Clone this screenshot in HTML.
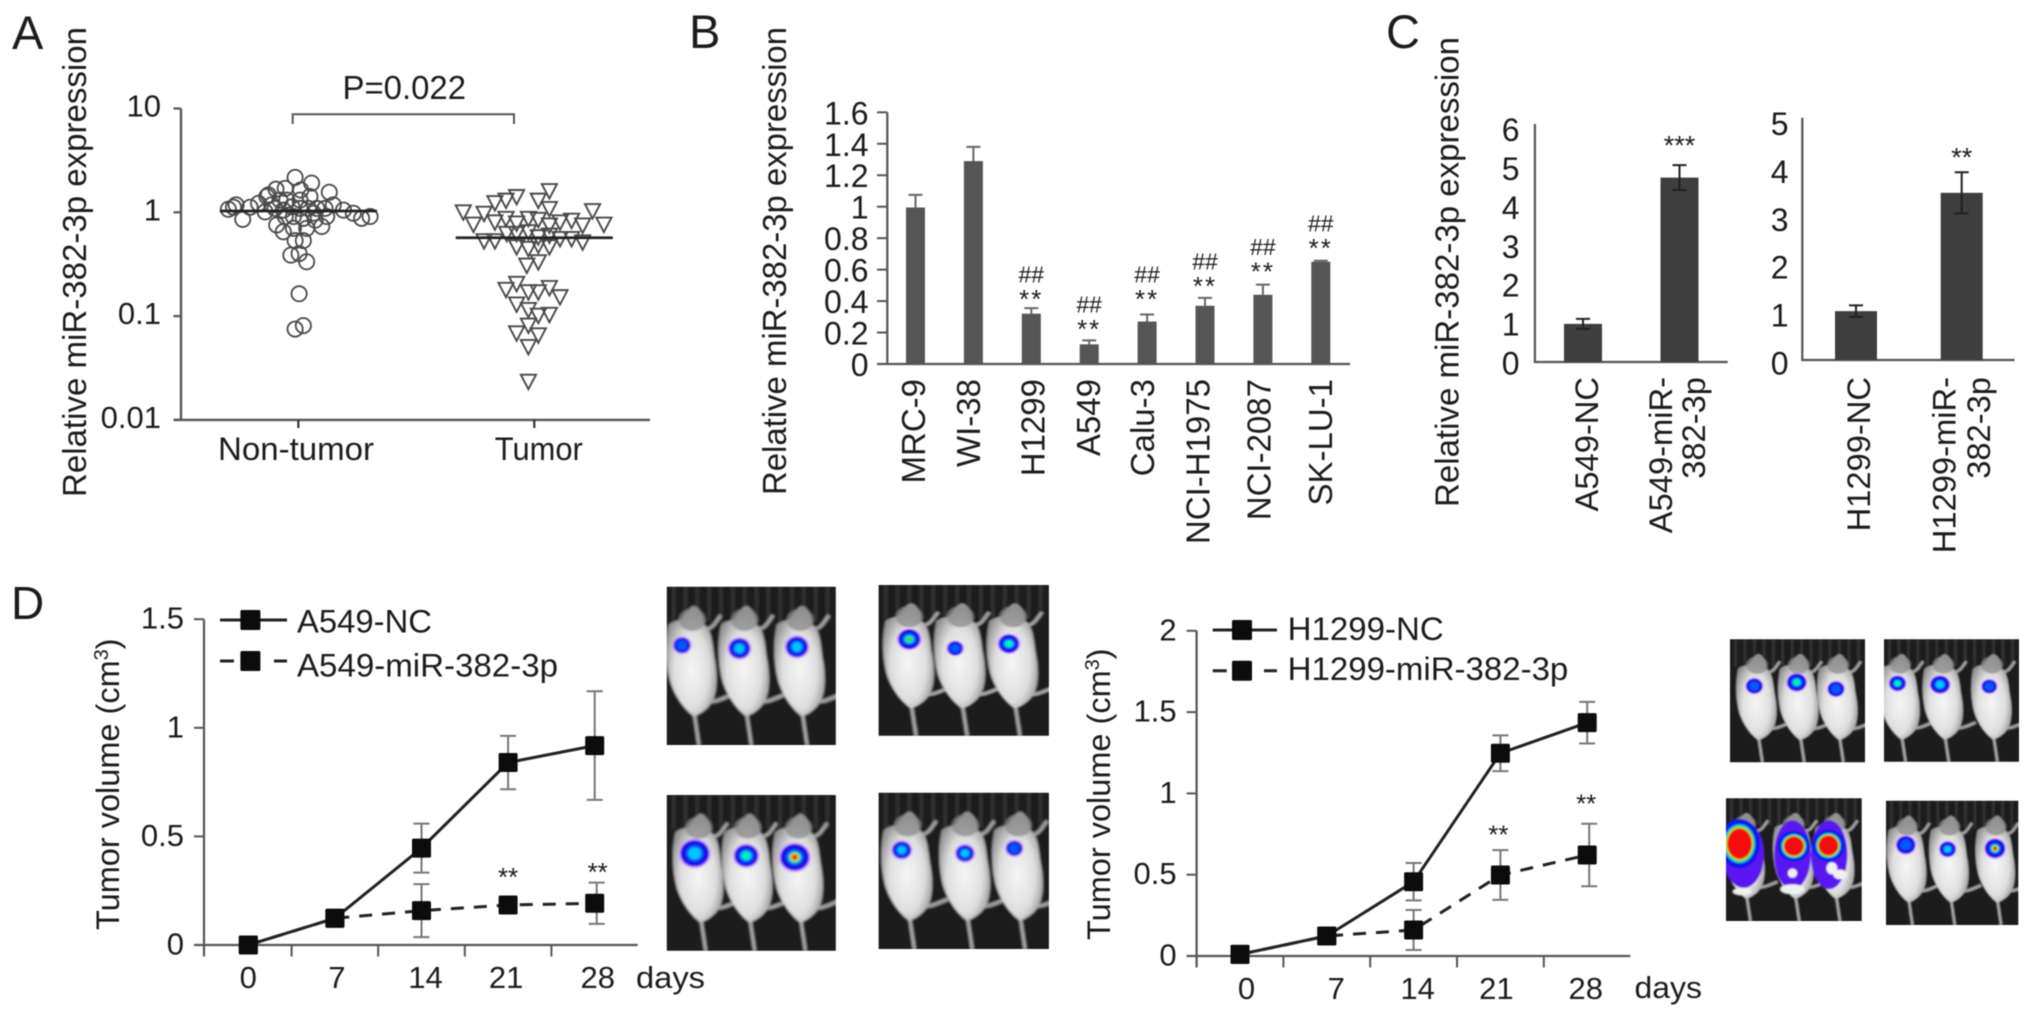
<!DOCTYPE html>
<html lang="en">
<head>
<meta charset="utf-8">
<title>miR-382-3p expression figure</title>
<style>
html,body{margin:0;padding:0;background:#fff;}
svg{display:block;}
text{font-family:"Liberation Sans",Arial,sans-serif;fill:#1c1c1c;}
</style>
</head>
<body>
<svg id="figure" xmlns="http://www.w3.org/2000/svg" width="2032" height="1018" viewBox="0 0 2032 1018" style="filter:blur(0.6px)">
  <defs>
    <radialGradient id="mouseGrad" cx="50%" cy="58%" r="58%">
      <stop offset="0%" stop-color="#f6f6f6"/>
      <stop offset="60%" stop-color="#dedede"/>
      <stop offset="100%" stop-color="#8e8e8e"/>
    </radialGradient>
    <filter id="soft" x="-10%" y="-10%" width="120%" height="120%"><feGaussianBlur stdDeviation="0.6"/></filter>
  </defs>
  <rect width="2032" height="1018" fill="#fff"/>

  <text x="12" y="49" font-size="47">A</text>
  <text x="689" y="48" font-size="47">B</text>
  <text x="1386" y="48" font-size="47">C</text>
  <text x="11" y="619" font-size="46">D</text>

  <text transform="translate(86 497) rotate(-90)" font-size="33" textLength="470" lengthAdjust="spacingAndGlyphs">Relative miR-382-3p expression</text>
  <text transform="translate(786 495) rotate(-90)" font-size="33" textLength="468" lengthAdjust="spacingAndGlyphs">Relative miR-382-3p expression</text>
  <text transform="translate(1458.5 507) rotate(-90)" font-size="33" textLength="470" lengthAdjust="spacingAndGlyphs">Relative miR-382-3p expression</text>
  <text transform="translate(119 930) rotate(-90)" font-size="32.5">Tumor volume (cm<tspan font-size="20" dy="-11">3</tspan><tspan dy="11">)</tspan></text>
  <text transform="translate(1110 940) rotate(-90)" font-size="32.5">Tumor volume (cm<tspan font-size="20" dy="-11">3</tspan><tspan dy="11">)</tspan></text>

  <text x="342.5" y="99" font-size="33" textLength="123.5" lengthAdjust="spacingAndGlyphs">P=0.022</text>
  <path d="M292.7 124V114.3H514V124" fill="none" stroke="#555" stroke-width="2"/>
  <text x="636" y="988" font-size="31" textLength="69" lengthAdjust="spacingAndGlyphs">days</text>
  <text x="1634.5" y="998" font-size="31" textLength="67.5" lengthAdjust="spacingAndGlyphs">days</text>

  <g id="panelA"></g>
  <g id="panelB"></g>
  <g id="panelC"></g>
  <g id="panelD1"></g>
  <g id="panelD2"></g>
  <g id="mice"></g>
</svg>

<script>
/* ---------- Panel A data ---------- */
const scatterGroups = ['Non-tumor', 'Tumor'];
const logTicks = [10, 1, 0.1, 0.01];
const logTickLabels = ['10', '1', '0.1', '0.01'];
const nonTumorValues = [2.17,1.91,1.56,1.64,1.70,1.67,1.47,1.31,1.31,1.42,1.22,1.07,1.18,0.855,1.12,1.01,0.755,0.65,0.70,0.70,0.73,0.84,0.91,1.18,1.05,0.98,0.875,0.91,1.09,1.05,1.13,1.09,1.09,1.09,1.09,1.18,1.31,0.91,0.875,0.98,0.91,1.42,1.12,0.533,0.533,0.387,0.40,0.334,0.164,0.075,0.081];
const nonTumorSpread = [-0.014,0.056,0.131,0.01,-0.056,-0.095,-0.127,0.007,-0.049,0.049,-0.169,-0.297,-0.264,-0.236,-0.205,-0.141,-0.092,-0.064,-0.021,0.035,0.099,0.071,0.12,0.148,0.191,0.233,0.268,0.304,-0.099,-0.064,-0.028,0.007,0.042,0.078,0.113,-0.113,-0.078,-0.021,0.021,0.064,-0.056,-0.134,-0.275,-0.014,0.021,-0.032,0.003,0.035,0.003,-0.014,0.021];
const tumorValues = [1.62,1.42,1.31,1.24,1.31,1.01,1.04,0.98,1.09,0.77,0.81,0.875,0.79,0.875,0.855,0.755,0.81,0.84,0.755,0.77,0.533,0.533,0.467,0.45,0.484,0.467,0.56,0.56,0.52,0.627,0.65,0.582,0.627,0.604,0.31,0.334,0.207,0.181,0.172,0.172,0.189,0.154,0.131,0.116,0.102,0.104,0.082,0.069,0.066,0.051,0.0236];
const tumorSpread = [0.064,-0.075,0.017,-0.167,-0.12,-0.301,0.247,-0.213,0.064,-0.258,-0.167,-0.12,-0.075,-0.025,0.017,0.064,0.109,0.158,0.205,0.295,-0.213,-0.167,-0.075,-0.025,0.017,0.064,0.109,0.158,0.205,-0.117,-0.025,0.017,-0.075,0.064,-0.032,0.017,-0.075,-0.12,-0.025,0.017,0.064,0.109,-0.075,-0.025,0.017,0.064,-0.025,-0.075,0.017,-0.025,-0.025];
const scatterMedians = [1.03, 0.569];

/* ---------- Panel B data ---------- */
const cellLines = ['MRC-9','WI-38','H1299','A549','Calu-3','NCI-H1975','NCI-2087','SK-LU-1'];
const cellExpression = [0.995,1.29,0.32,0.125,0.27,0.37,0.44,0.65];
const cellError = [0.08,0.09,0.035,0.025,0.045,0.05,0.065,0.006];
const cellMarkLevel = [null,null,0.427,0.234,0.427,0.51,0.60,0.75];
const cellTicks = [0,0.2,0.4,0.6,0.8,1,1.2,1.4,1.6];
const cellTickLabels = ['0','0.2','0.4','0.6','0.8','1','1.2','1.4','1.6'];

/* ---------- Panel C data ---------- */
const a549Groups = [['A549-NC'],['A549-miR-','382-3p']];
const a549Values = [0.98,4.74];
const a549Errors = [0.13,0.32];
const a549Ticks = [0,1,2,3,4,5,6];
const h1299Groups = [['H1299-NC'],['H1299-miR-','382-3p']];
const h1299Values = [1.02,3.49];
const h1299Errors = [0.12,0.43];
const h1299Ticks = [0,1,2,3,4,5];

/* ---------- Panel D data ---------- */
const dayTicks = ['0','7','14','21','28'];
const a549VolTicks = [0,0.5,1,1.5];
const a549VolLabels = ['0','0.5','1','1.5'];
const a549NcVolume = [0,0.123,0.446,0.84,0.918];
const a549NcError = [0,0.01,0.113,0.123,0.25];
const a549MirVolume = [0,0.123,0.158,0.184,0.192];
const a549MirError = [0,0.01,0.122,0.03,0.095];
const a549MarkLevel = [null,null,null,0.322,0.345];
const h1299VolTicks = [0,0.5,1,1.5,2];
const h1299VolLabels = ['0','0.5','1','1.5','2'];
const h1299NcVolume = [0.01,0.123,0.457,1.247,1.435];
const h1299NcError = [0,0.01,0.115,0.11,0.128];
const h1299MirVolume = [0.01,0.123,0.16,0.498,0.621];
const h1299MirError = [0,0.01,0.123,0.153,0.192];
const h1299MarkLevel = [null,null,null,0.76,0.949];

/* ---------- helpers ---------- */
const NS = 'http://www.w3.org/2000/svg';
const AXIS = '#555';
function mk(tag, parent, attrs) {
  const n = document.createElementNS(NS, tag);
  for (const k in attrs) n.setAttribute(k, attrs[k]);
  parent.appendChild(n);
  return n;
}
function label(parent, x, y, str, size, anchor, rot) {
  const n = mk('text', parent, {x: x, y: y, 'font-size': size, 'text-anchor': anchor || 'start'});
  if (rot) n.setAttribute('transform', 'rotate(-90 ' + x + ' ' + y + ')');
  n.textContent = str;
  return n;
}
function stroke(parent, d, color, width, dash) {
  const n = mk('path', parent, {d: d, fill: 'none', stroke: color, 'stroke-width': width});
  if (dash) n.setAttribute('stroke-dasharray', dash);
  return n;
}

/* ---------- Panel A ---------- */
(function () {
  const g = document.getElementById('panelA');
  const yA = v => 212.3 - Math.log10(v) * 103.8;
  const xA = c => 298.4 + c * 235.9;

  const yAxis = stroke(g, 'M181 ' + yA(10) + 'V' + yA(0.01), AXIS, 2.4);
  
  
  const xAxis = stroke(g, 'M173.5 ' + yA(0.01) + 'H650', AXIS, 2.4);
  
  

  logTicks.forEach((t, i) => {
    const tick = stroke(g, 'M173.5 ' + yA(t) + 'H181', AXIS, 2.2);
    
    
    const tl = label(g, 161, yA(t) + 8, logTickLabels[i], 31, 'end');
    
    
  });

  scatterGroups.forEach((name, i) => {
    const tick = stroke(g, 'M' + xA(i) + ' ' + yA(0.01) + 'V428', '#333', 2.2);
    
    
    const tl = label(g, xA(i) - (i ? -4.5 : 2.4), 460, name, 32, 'middle');
    tl.setAttribute('textLength', i ? 88 : 156);
    tl.setAttribute('lengthAdjust', 'spacingAndGlyphs');
    
    
  });

  nonTumorValues.forEach((v, i) => {
    const c = mk('circle', g, {cx: xA(nonTumorSpread[i]), cy: yA(v), r: 7.6, fill: 'none', stroke: '#4a4a4a', 'stroke-width': 1.8});
    
    
  });
  tumorValues.forEach((v, i) => {
    const x = xA(1 + tumorSpread[i]), y = yA(v);
    const t = mk('path', g, {d: 'M' + (x - 7.6) + ' ' + (y - 6.5) + 'H' + (x + 7.6) + 'L' + x + ' ' + (y + 8) + 'Z', fill: 'none', stroke: '#4a4a4a', 'stroke-width': 1.9});
    
    
  });
  scatterMedians.forEach((m, i) => {
    const l = stroke(g, 'M' + xA(i - 0.333) + ' ' + yA(m) + 'H' + xA(i + 0.333), '#222', 2.8);
    
    
  });
})();

/* ---------- Panel B ---------- */
(function () {
  const g = document.getElementById('panelB');
  const yB = v => 364 - v * 157.3;
  const xB = i => 915.5 + i * 57.9;
  const labelNudge = [9.5, 6.5, 13, 11, 7, 4.5, 7.5, 11];

  const yAxis = stroke(g, 'M887.3 ' + yB(1.6) + 'V' + yB(0), AXIS, 2.2);
  
  

  cellTicks.forEach((t, i) => {
    const tick = stroke(g, 'M877 ' + yB(t) + 'H887.3', AXIS, 2);
    
    
    const tl = label(g, 868.5, yB(t) + 12, cellTickLabels[i], 32, 'end');
    
    
  });

  cellLines.forEach((name, i) => {
    const x = xB(i), v = cellExpression[i], e = cellError[i];
    const err = stroke(g, 'M' + x + ' ' + yB(v) + 'V' + yB(v + e) + 'M' + (x - 7) + ' ' + yB(v + e) + 'H' + (x + 7), '#666', 2);
    
    
    const bar = mk('rect', g, {x: x - 9.5, y: yB(v), width: 19, height: yB(0) - yB(v), fill: '#555'});
    
    
    const tl = label(g, x + labelNudge[i], 379, name, 33, 'end', true);
    
    
    if (cellMarkLevel[i] !== null) {
      const stars = label(g, x, yB(cellMarkLevel[i]) + 11, '**', 26, 'middle');
      stars.setAttribute('letter-spacing', '2');
      
      
      const hash = label(g, x, yB(cellMarkLevel[i]) - 14.5, '##', 23, 'middle');
      
      
    }
  });

  const xAxis = stroke(g, 'M877 ' + yB(0) + 'H1350', AXIS, 2.2);
  
  
})();

/* ---------- Panel C ---------- */
(function () {
  const g = document.getElementById('panelC');
  function drawPanel(key, cfg, groups, values, errors, ticks, stars) {
    const y = v => cfg.y0 - v * cfg.step;
    const ax = stroke(g, 'M' + cfg.axisX + ' ' + cfg.axisTop + 'V' + cfg.y0 + 'H' + cfg.axisEnd, AXIS, 2.2);
    
    
    ticks.forEach(t => {
      const tl = label(g, cfg.labelX, y(t) + cfg.labelDy, String(t), 32, 'end');
      
      
    });
    groups.forEach((lines, i) => {
      const x = cfg.barX[i], v = values[i], e = errors[i];
      const bar = mk('rect', g, {x: x - cfg.barW / 2, y: y(v), width: cfg.barW, height: cfg.y0 - y(v), fill: '#3e3e3e'});
      
      
      const err = stroke(g, 'M' + x + ' ' + y(v + e) + 'V' + y(v - e) + 'M' + (x - 7) + ' ' + y(v + e) + 'H' + (x + 7) + 'M' + (x - 7) + ' ' + y(v - e) + 'H' + (x + 7), '#222', 2);
      
      
      lines.forEach((line, j) => {
        const tl = label(g, cfg.textX[i][j], 377, line, 32.7, 'end', true);
        
        
      });
    });
    const st = label(g, cfg.barX[1], stars.y + 11, stars.text, 27, 'middle');
    
    
  }
  drawPanel('a549', {y0: 362, step: 38.9, axisX: 1534.9, axisTop: 124, axisEnd: 1727.7, labelX: 1519.5, labelDy: 12.5,
    barX: [1583, 1679.5], barW: 38, textX: [[1598], [1672, 1705]]},
    a549Groups, a549Values, a549Errors, a549Ticks, {y: 143.7, text: '***'});
  drawPanel('h1299', {y0: 360, step: 47.9, axisX: 1802.3, axisTop: 117.8, axisEnd: 2014.5, labelX: 1788.5, labelDy: 14.5,
    barX: [1856, 1961.7], barW: 42, textX: [[1870], [1955.7, 1990]]},
    h1299Groups, h1299Values, h1299Errors, h1299Ticks, {y: 155.6, text: '**'});
})();

/* ---------- Panel D line charts ---------- */
function drawLines(g, key, cfg, ticks, tickLabels, nc, ncErr, mir, mirErr, marks, legendNc, legendMir) {
  const x = i => cfg.x0 + i * cfg.dx;
  const y = v => cfg.y0 - v * cfg.scale;
  const path = arr => arr.map((v, i) => (i ? 'L' : 'M') + x(i) + ' ' + y(v)).join('');

  const yAxis = stroke(g, 'M' + cfg.axisX + ' ' + y(ticks[ticks.length - 1]) + 'V' + (cfg.y0 + 11.5), AXIS, 2.2);
  
  
  const xAxis = stroke(g, 'M' + (cfg.axisX - 10) + ' ' + cfg.y0 + 'H' + cfg.axisEnd, AXIS, 2.2);
  
  
  ticks.forEach((t, i) => {
    const tick = stroke(g, 'M' + (cfg.axisX - 10) + ' ' + y(t) + 'H' + cfg.axisX, AXIS, 2);
    
    
    const tl = label(g, cfg.axisX - 20, y(t) + 9.5, tickLabels[i], 31, 'end');
    
    
  });
  dayTicks.forEach((d, i) => {
    if (i < 4) {
      const tick = stroke(g, 'M' + (x(i) + cfg.dx / 2) + ' ' + cfg.y0 + 'V' + (cfg.y0 + 11.5), AXIS, 2);
      
      
    }
    const tl = label(g, x(i) + cfg.labelNudge[i], cfg.y0 + 43, d, 31, 'middle');
    
    
  });

  [[mir, mirErr, 'mir'], [nc, ncErr, 'nc']].forEach(s => {
    s[0].forEach((v, i) => {
      if (s[1][i] <= 0) return;
      const px = x(i) + (s[2] === 'mir' && i === 4 ? 2 : 0);
      const err = stroke(g, 'M' + px + ' ' + y(v + s[1][i]) + 'V' + y(v - s[1][i]) + 'M' + (px - 8) + ' ' + y(v + s[1][i]) + 'H' + (px + 8) + 'M' + (px - 8) + ' ' + y(v - s[1][i]) + 'H' + (px + 8), '#777', 2);
      
      
    });
  });

  const mirLine = stroke(g, path(mir), '#222', 3, '13 10');
  
  
  const ncLine = stroke(g, path(nc), '#222', 3);
  
  

  [mir, nc].forEach((arr, si) => {
    arr.forEach((v, i) => {
      const m = mk('rect', g, {x: x(i) - 9.5, y: y(v) - 9.5, width: 19, height: 19, rx: 1.5, fill: '#0c0c0c'});
      
      
    });
  });

  marks.forEach((lvl, i) => {
    if (lvl === null) return;
    const st = label(g, x(i) + cfg.starNudge[i], y(lvl) + 11, '**', 26, 'middle');
    
    
  });

  /* legend */
  const l = cfg.legend;
  const lineNc = stroke(g, 'M' + l.x1 + ' ' + l.y1 + 'H' + l.x2, '#222', 3);
  
  
  const markNc = mk('rect', g, {x: l.mx - 10, y: l.y1 - 10, width: 20, height: 20, rx: 1.5, fill: '#0c0c0c'});
  
  
  const textNc = label(g, l.tx, l.b1, legendNc, 32.5);
  textNc.setAttribute('textLength', l.w1);
  textNc.setAttribute('lengthAdjust', 'spacingAndGlyphs');
  
  
  const lineMir = stroke(g, 'M' + l.x1 + ' ' + l.y2 + 'H' + (l.x1 + 14) + 'M' + (l.x2 - 13) + ' ' + l.y2 + 'H' + l.x2, '#222', 3);
  
  
  const markMir = mk('rect', g, {x: l.mx - 10, y: l.y2 - 10, width: 20, height: 20, rx: 1.5, fill: '#0c0c0c'});
  
  
  const textMir = label(g, l.tx, l.b2, legendMir, 32.5);
  textMir.setAttribute('textLength', l.w2);
  textMir.setAttribute('lengthAdjust', 'spacingAndGlyphs');
  
  
}
drawLines(document.getElementById('panelD1'), 'a549-volume',
  {x0: 248.3, dx: 86.6, y0: 945, scale: 217.2, axisX: 204, axisEnd: 637.7,
   labelNudge: [0, 2, 4, -2, 3], starNudge: [0, 0, 0, 0, 3],
   legend: {x1: 220, x2: 287, mx: 250.4, y1: 620, y2: 661, tx: 297, b1: 632.7, b2: 676.7, w1: 135, w2: 261}},
  a549VolTicks, a549VolLabels, a549NcVolume, a549NcError, a549MirVolume, a549MirError, a549MarkLevel,
  'A549-NC', 'A549-miR-382-3p');
drawLines(document.getElementById('panelD2'), 'h1299-volume',
  {x0: 1240, dx: 86.8, y0: 956, scale: 162.6, axisX: 1196.6, axisEnd: 1630.3,
   labelNudge: [6.5, 9.5, 4, -4, -1.5], starNudge: [0, 0, 0, -2, -1],
   legend: {x1: 1212.7, x2: 1277, mx: 1242, y1: 630, y2: 670.7, tx: 1287.7, b1: 640, b2: 680, w1: 156, w2: 280.6}},
  h1299VolTicks, h1299VolLabels, h1299NcVolume, h1299NcError, h1299MirVolume, h1299MirError, h1299MarkLevel,
  'H1299-NC', 'H1299-miR-382-3p');

/* ---------- Mouse bioluminescence images ---------- */
(function () {
  const root = document.getElementById('mice');
  const images = [
    {n: 'a549-nc-mice-top', x: 666.8, y: 586.7, w: 169, h: 158.3, s: [[9, 37, 5, 2], [43, 39, 6.3, 3], [77, 38, 6.5, 3.5]], m: [14, 45, 78]},
    {n: 'a549-mir-mice-top', x: 878.6, y: 585, w: 170.3, h: 150.7, s: [[18, 36, 6.5, 5], [45, 42, 4.6, 2], [76.5, 39, 6, 4]], m: [17, 47, 78]},
    {n: 'a549-nc-mice-bottom', x: 666.8, y: 795, w: 169, h: 155.7, s: [[16.5, 37.5, 8.5, 3], [47, 39, 7, 4], [75.7, 40, 8.5, 6]], m: [18, 47, 77]},
    {n: 'a549-mir-mice-bottom', x: 878.6, y: 792.7, w: 170.3, h: 156.3, s: [[13.6, 36.7, 5.5, 3], [50.7, 38.8, 5.3, 3], [79.7, 35.6, 4.8, 2]], m: [16, 50, 81]},
    {n: 'h1299-nc-mice-top', x: 1730, y: 639.3, w: 135, h: 123, s: [[18, 38, 6, 2], [49.4, 35, 7, 4], [78.5, 40.4, 6, 2.5]], m: [19, 50, 79]},
    {n: 'h1299-mir-mice-top', x: 1884, y: 639.3, w: 135, h: 122.4, s: [[10, 36, 6, 4], [41.5, 37, 7, 3.5], [78, 38.5, 5.5, 2.5]], m: [11, 43, 79]},
    {n: 'h1299-nc-mice-bottom', x: 1726, y: 798.3, w: 135.7, h: 122.7, s: [], m: [13, 49, 79]},
    {n: 'h1299-mir-mice-bottom', x: 1886, y: 800.7, w: 132.3, h: 124.3, s: [[15, 35.6, 7, 2.5], [46.6, 39, 6, 3], [82.4, 38.4, 7.5, 6]], m: [15, 47, 82]}
  ];
  const ringSets = [
    [1.12, '#dca0ff', 0], [1, '#1508e6', 1], [0.62, '#0058ff', 2], [0.46, '#00c4ff', 3],
    [0.36, '#00f0b0', 4], [0.24, '#5cc840', 5], [0.42, '#30e080', 6], [0.3, '#e8d020', 6], [0.2, '#f01010', 6]
  ];
  function hotspot(p, cx, cy, rx, ry, level) {
    ringSets.forEach(r => {
      if (level >= r[2]) mk('ellipse', p, {cx: cx, cy: cy, rx: rx * r[0], ry: ry * r[0], fill: r[1]});
    });
  }
  images.forEach(im => {
    const s = mk('svg', root, {x: im.x, y: im.y, width: im.w, height: im.h, viewBox: '0 0 100 100', preserveAspectRatio: 'none'});
    
    
    const inner = mk('g', s, {filter: 'url(#soft)'});
    mk('rect', inner, {x: -2, y: -2, width: 104, height: 104, fill: '#1f1f1f'});
    for (let k = 3; k < 100; k += 7) mk('rect', inner, {x: k, y: 0, width: 2.2, height: 22, fill: '#303030'});
    mk('rect', inner, {x: -2, y: 80, width: 104, height: 22, fill: '#1a1a1a'});
    im.m.forEach(cx => {
      mk('path', inner, {d: 'M' + (cx + 2) + ' 78L' + (cx + 5) + ' 100', stroke: '#a8a8a8', 'stroke-width': 2, fill: 'none'});
      mk('path', inner, {d: 'M' + (cx + 9) + ' 72C' + (cx + 14) + ' 74 ' + (cx + 20) + ' 70 ' + (cx + 25) + ' 68', stroke: '#a0a0a0', 'stroke-width': 2.4, fill: 'none'});
      mk('path', inner, {d: 'M' + (cx + 9) + ' 27C' + (cx + 14) + ' 26 ' + (cx + 15) + ' 22 ' + (cx + 18) + ' 18', stroke: '#a0a0a0', 'stroke-width': 2.2, fill: 'none'});
      mk('path', inner, {
        d: 'M' + (cx + 2) + ' 12C' + (cx + 6) + ' 13 ' + (cx + 8) + ' 19 ' + (cx + 8) + ' 24C' + (cx + 12) + ' 26 ' + (cx + 13) + ' 34 ' + (cx + 14) + ' 44C' + (cx + 16) + ' 54 ' + (cx + 16) + ' 64 ' + (cx + 14) + ' 70C' + (cx + 12) + ' 76 ' + (cx + 7) + ' 80 ' + (cx + 2) + ' 82C' + (cx - 3) + ' 78 ' + (cx - 9) + ' 70 ' + (cx - 12) + ' 60C' + (cx - 15) + ' 48 ' + (cx - 15) + ' 34 ' + (cx - 13) + ' 24C' + (cx - 10) + ' 21 ' + (cx - 7) + ' 22 ' + (cx - 5) + ' 20C' + (cx - 3) + ' 17 ' + (cx - 1) + ' 13 ' + (cx + 2) + ' 12Z',
        fill: 'url(#mouseGrad)'
      });
      mk('ellipse', inner, {cx: cx + 1, cy: 21, rx: 8, ry: 7, fill: '#8c8c8c', opacity: 0.75});
    });
    im.s.forEach(b => hotspot(inner, b[0], b[1], b[2], b[2], b[3]));
    if (im.s.length === 0) {
      [[13, 46, 15, 27], [49, 46, 13.5, 28], [76, 46, 13.5, 28]].forEach(e => {
        mk('ellipse', inner, {cx: e[0], cy: e[1], rx: e[2], ry: e[3], fill: '#5a12f0'});
      });
      [[10, 37, 15, 20, 12], [50, 39, 12, 12.5, 8], [75.5, 38.5, 12, 13, 8]].forEach(e => {
        mk('ellipse', inner, {cx: e[0], cy: e[1], rx: e[2], ry: e[3], fill: '#0a14f0'});
        mk('ellipse', inner, {cx: e[0], cy: e[1], rx: e[2] * 0.78, ry: e[3] * 0.8, fill: '#10c8c0'});
        mk('ellipse', inner, {cx: e[0], cy: e[1], rx: e[2] * 0.68, ry: e[3] * 0.7, fill: '#c0d820'});
        mk('ellipse', inner, {cx: e[0], cy: e[1], rx: e[2] * 0.6, ry: e[3] * 0.62, fill: '#f40808'});
      });
      [[49, 61, 3.5, 3.8], [49, 74, 9, 4], [78, 57, 4, 5], [84, 62, 5, 4], [12, 76, 7, 3]].forEach(e => {
        mk('ellipse', inner, {cx: e[0], cy: e[1], rx: e[2], ry: e[3], fill: '#f0f0f0'});
      });
    }
  });
})();
</script>
</body>
</html>
